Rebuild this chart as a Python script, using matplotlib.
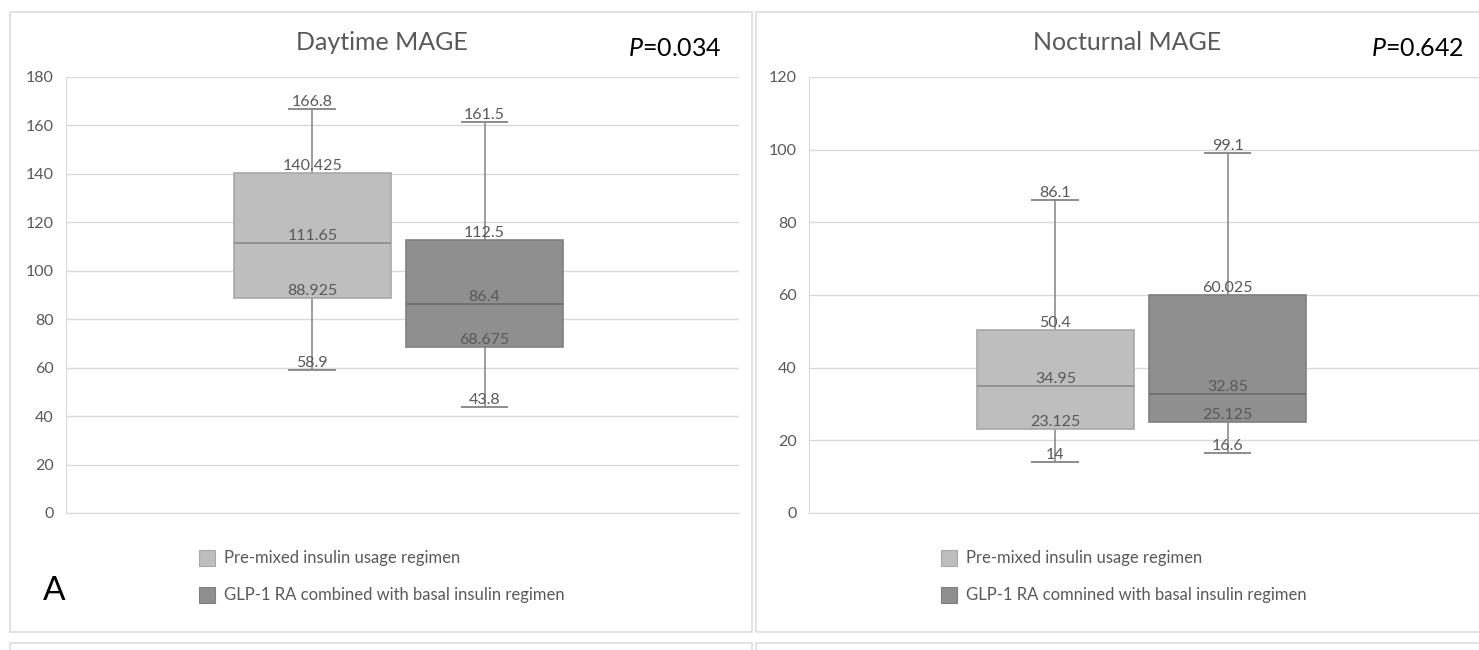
#!/usr/bin/env python3
"""Daytime / nocturnal MAGE box plots, two regimens side by side."""
import matplotlib
matplotlib.use("Agg")
import matplotlib.pyplot as plt
from matplotlib.patches import Rectangle

# ---- data ---------------------------------------------------------------
PANELS = ["Daytime MAGE", "Nocturnal MAGE"]
P_VALUES = ["0.034", "0.642"]
YMAX = [180, 120]

day_min = [58.9, 43.8]
day_q1 = [88.925, 68.675]
day_med = [111.65, 86.4]
day_q3 = [140.425, 112.5]
day_max = [166.8, 161.5]

noc_min = [14, 16.6]
noc_q1 = [23.125, 25.125]
noc_med = [34.95, 32.85]
noc_q3 = [50.4, 60.025]
noc_max = [86.1, 99.1]

LEGENDS = [
    ["Pre-mixed insulin usage regimen",
     "GLP-1 RA combined with basal insulin regimen"],
    ["Pre-mixed insulin usage regimen",
     "GLP-1 RA comnined with basal insulin regimen"],
]

# ---- style --------------------------------------------------------------
FILLS = ["#BEBEBE", "#8F8F8F"]
EDGES = ["#A8A8A8", "#808080"]
MEDS = ["#8E8E8E", "#6E6E6E"]
WHISK = "#8C8C8C"
TXT = "#595959"
GRID = "#D9D9D9"
PANEL = "#DDDDDD"

plt.rcParams["font.family"] = ["Lato", "DejaVu Sans"]
plt.rcParams["mathtext.fontset"] = "custom"
plt.rcParams["mathtext.rm"] = "Lato"
plt.rcParams["mathtext.it"] = "Lato:italic"

W, H = 1479, 650
fig = plt.figure(figsize=(W / 100, H / 100), dpi=100)
fig.patch.set_facecolor("white")


def fx(px):
    return px / W


def fy(py):
    return 1 - py / H


# panel frames (the lower row is cut off by the image edge)
for x0 in (10, 756):
    fig.add_artist(Rectangle((fx(x0), fy(632)), fx(742), 620 / H,
                             transform=fig.transFigure, fill=False,
                             ec=PANEL, lw=1.2))
    fig.add_artist(Rectangle((fx(x0), fy(700)), fx(742), 57 / H,
                             transform=fig.transFigure, fill=False,
                             ec=PANEL, lw=1.2))

data = [
    (day_min, day_q1, day_med, day_q3, day_max),
    (noc_min, noc_q1, noc_med, noc_q3, noc_max),
]
ax_left = [66, 809]
positions = [0.366, 0.622]

for k in range(2):
    lo, q1, med, q3, hi = data[k]
    ax = fig.add_axes([fx(ax_left[k]), fy(513), fx(673), 436 / H])
    stats = [dict(whislo=lo[i], q1=q1[i], med=med[i], q3=q3[i],
                  whishi=hi[i], fliers=[]) for i in range(2)]
    bp = ax.bxp(stats, positions=positions, widths=0.233, capwidths=0.068,
                patch_artist=True, showfliers=False, manage_ticks=False,
                whiskerprops=dict(color=WHISK, lw=1.2),
                capprops=dict(color=WHISK, lw=1.4))
    for i, box in enumerate(bp["boxes"]):
        box.set_facecolor(FILLS[i])
        box.set_edgecolor(EDGES[i])
        box.set_linewidth(1.2)
        box.set_zorder(3)
        bp["medians"][i].set_color(MEDS[i])
        bp["medians"][i].set_linewidth(1.3)
        bp["medians"][i].set_zorder(4)
        for v in (lo[i], q1[i], med[i], q3[i], hi[i]):
            ax.text(positions[i], v, f"{v:g}", ha="center", va="bottom",
                    fontsize=11.5, color=TXT, zorder=5)

    ax.set_xlim(0, 1)
    ax.set_ylim(0, YMAX[k])
    ax.set_yticks(range(0, YMAX[k] + 1, 20))
    ax.set_xticks([])
    ax.tick_params(axis="y", length=0, pad=9, labelsize=11.5, labelcolor=TXT)
    ax.grid(axis="y", color=GRID, lw=1)
    ax.set_axisbelow(True)
    for s in ("top", "right"):
        ax.spines[s].set_visible(False)
    for s in ("left", "bottom"):
        ax.spines[s].set_color(GRID)

    # title and P value
    cx = 382 + k * 745
    fig.text(fx(cx), fy(42), PANELS[k], ha="center", va="center",
             fontsize=18, color=TXT)
    fig.text(fx(722 + k * 742), fy(48), r"$\mathit{P}$=" + P_VALUES[k],
             ha="right", va="center", fontsize=18, color="black")

    # legend
    lx = 199 + k * 742
    for j, lab in enumerate(LEGENDS[k]):
        yc = 558 + j * 37
        fig.add_artist(Rectangle((fx(lx), fy(yc + 8)), fx(16), 16 / H,
                                 transform=fig.transFigure, fc=FILLS[j],
                                 ec=EDGES[j], lw=0.8))
        fig.text(fx(lx + 25), fy(yc), lab, ha="left", va="center",
                 fontsize=12, color=TXT)

fig.text(fx(43), fy(591), "A", ha="left", va="center", fontsize=24,
         color="black")

fig.savefig("out.png", dpi=100, facecolor="white")
